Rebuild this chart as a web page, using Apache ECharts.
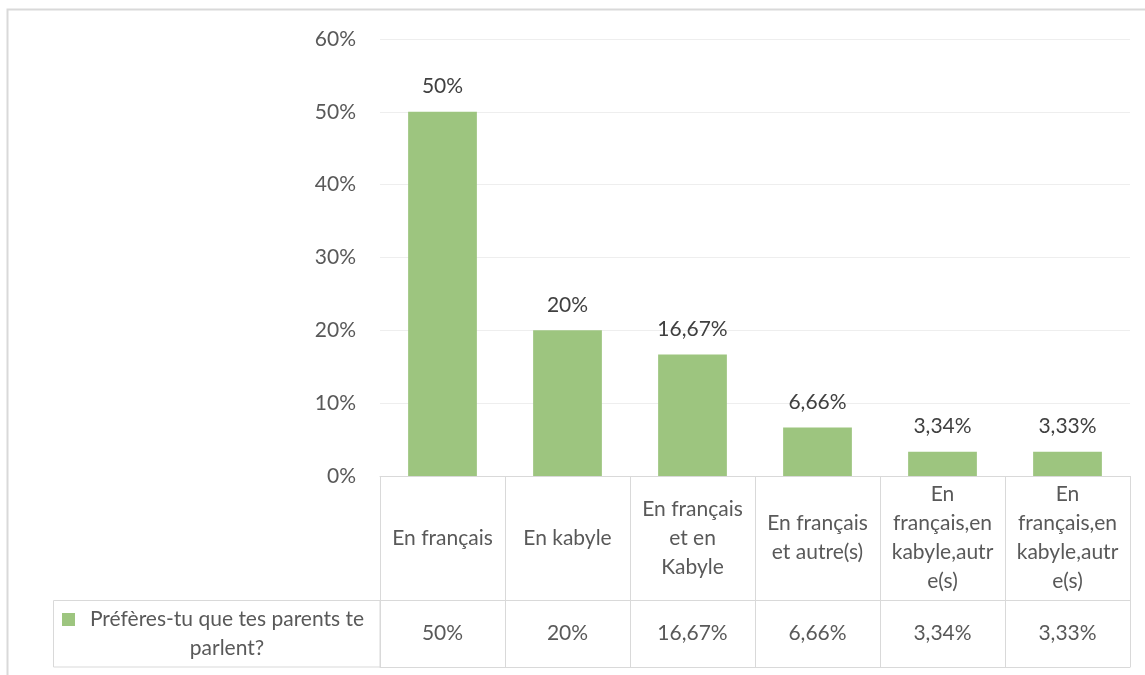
<!DOCTYPE html>
<html>
<head>
<meta charset="utf-8">
<script src="https://cdn.jsdelivr.net/npm/echarts@6/dist/echarts.min.js"></script>
<style>
    html, body { margin: 0; padding: 0; background: #fff; }
    #chart { width: 1145px; height: 675px; }
</style>
</head>
<body>
<div id="chart"></div>
<script>
// ---------------------- 数据 ----------------------
const seriesName = 'Préfères-tu que tes parents te parlent?';
const categories = ['En français', 'En kabyle', 'En français\net en\nKabyle', 'En français\net autre(s)',
    'En\nfrançais,en\nkabyle,autr\ne(s)', 'En\nfrançais,en\nkabyle,autr\ne(s)'];
const values = [50, 20, 16.67, 6.66, 3.34, 3.33];
const valueLabels = ['50%', '20%', '16,67%', '6,66%', '3,34%', '3,33%'];
const yTicks = [0, 10, 20, 30, 40, 50, 60];

const FONT = 'Lato';
const FS = 21;
const TXT = '#595959';
const LINE = '#d9d9d9';
const GREEN = '#9dc57f';

const chart = echarts.init(document.getElementById('chart'));
chart.setOption({
    animation: false,
    textStyle: { fontFamily: FONT },
    grid: { left: 380, right: 15, top: 39, bottom: 199 },
    xAxis: [
        {
            type: 'category',
            data: categories.map((c, i) => i),
            axisLine: { lineStyle: { color: LINE, width: 1 } },
            axisTick: { show: true, interval: 0, length: 191, lineStyle: { color: LINE } },
            axisLabel: {
                interval: 0,
                margin: 62,
                verticalAlign: 'middle',
                fontSize: FS, color: TXT, lineHeight: 29,
                formatter: (v) => categories[v]
            }
        },
        {
            type: 'category',
            position: 'bottom',
            offset: 124,
            data: valueLabels,
            axisLine: { lineStyle: { color: LINE } },
            axisTick: { show: false },
            axisLabel: { interval: 0, margin: 33, verticalAlign: 'middle', fontSize: FS, color: TXT }
        },
        {
            type: 'category',
            position: 'bottom',
            offset: 191,
            data: valueLabels,
            axisLine: { lineStyle: { color: LINE } },
            axisTick: { show: false },
            axisLabel: { show: false }
        }
    ],
    yAxis: {
        type: 'value',
        min: yTicks[0],
        max: yTicks[yTicks.length - 1],
        interval: 10,
        axisLine: { show: false },
        axisTick: { show: false },
        axisLabel: { margin: 24, fontSize: FS, color: TXT, formatter: '{value}%' },
        splitLine: { lineStyle: { color: '#eeeeee' } }
    },
    series: [
        {
            name: seriesName,
            type: 'bar',
            barWidth: '55%',
            itemStyle: { color: GREEN },
            label: {
                show: true, position: 'top', distance: 15,
                fontSize: FS, color: '#404040',
                formatter: (p) => valueLabels[p.dataIndex]
            },
            data: values
        }
    ],
    graphic: [
        // 外框
        { type: 'rect', shape: { x: 7.5, y: 9.5, width: 1200, height: 700 }, style: { fill: 'none', stroke: LINE, lineWidth: 2 }, silent: true },
        // 图例单元格
        { type: 'rect', shape: { x: 53.5, y: 600.5, width: 326.5, height: 66.5 }, style: { fill: 'none', stroke: LINE, lineWidth: 1 }, silent: true },
        { type: 'rect', shape: { x: 62, y: 613, width: 13, height: 13 }, style: { fill: GREEN }, silent: true },
        {
            type: 'text', x: 227, y: 634, silent: true,
            style: {
                text: 'Préfères-tu que tes parents te\nparlent?',
                font: FS + 'px ' + FONT, fill: TXT, align: 'center', verticalAlign: 'middle', lineHeight: 29
            }
        }
    ]
});
</script>
</body>
</html>
